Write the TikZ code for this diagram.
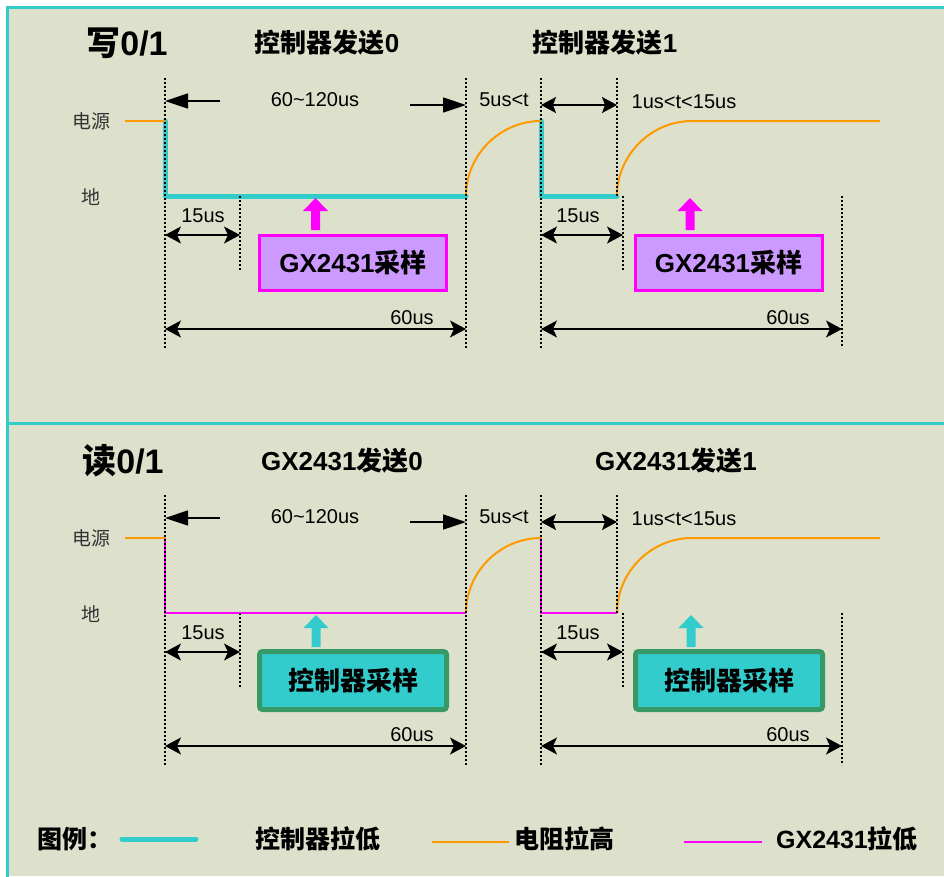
\documentclass[tikz,border=0pt]{standalone}
\usepackage{fontspec}
\setmainfont{Liberation Sans}
\newfontfamily\cjk{Noto Sans CJK SC}
\usetikzlibrary{arrows.meta}
\definecolor{bg}{RGB}{221,225,203}
\definecolor{cy}{RGB}{51,204,204}
\definecolor{og}{RGB}{255,153,0}
\definecolor{mg}{RGB}{255,0,255}
\definecolor{pu}{RGB}{204,153,255}
\definecolor{gr}{RGB}{57,153,102}
\newcommand\zh[1]{{\cjk #1}}
\tikzset{
  dotl/.style={line width=1.3pt, dash pattern=on 2pt off 2pt},
  ctl/.style={cy, line width=5pt, line cap=round, line join=round},
  gxl/.style={mg, line width=2pt},
  res/.style={og, line width=2pt},
  dimA/.style={line width=1.5pt, -{Triangle[length=23pt,width=15pt]}},
  dimB/.style={line width=1.5pt, {Stealth[length=15pt,width=16pt,inset=3pt]}-{Stealth[length=15pt,width=16pt,inset=3pt]}},
  dimC/.style={line width=1.5pt, {Stealth[length=16pt,width=17pt,inset=4pt]}-{Stealth[length=16pt,width=17pt,inset=4pt]}},
  lab/.style={font=\fontsize{20}{24}\selectfont, inner sep=0pt},
  lvl/.style={font=\cjk\fontsize{19}{22}\selectfont, inner sep=0pt, text=black!80},
  ttl/.style={font=\bfseries\fontsize{26}{30}\selectfont, inner sep=0pt},
  big/.style={font=\bfseries\fontsize{34}{40}\selectfont, inner sep=0pt},
  legt/.style={font=\bfseries\fontsize{25}{30}\selectfont, inner sep=0pt},
  wbox/.style={draw=mg, fill=pu, line width=3pt, minimum width=187pt, minimum height=55pt, font=\bfseries\fontsize{26}{30}\selectfont, inner sep=0pt},
  rbox/.style={draw=gr, fill=cy, line width=5pt, rounded corners=3pt, minimum width=187pt, minimum height=58pt, font=\bfseries\fontsize{26}{30}\selectfont, inner sep=0pt},
}
\newcommand\uparr[3]{\fill[#3, shift={(#1,#2)}] (-4.5,32) -- (-4.5,13) -- (-12.5,13) -- (0,0) -- (12.5,13) -- (4.5,13) -- (4.5,32) -- cycle;}
\newcommand\panelbase[1]{%
  \draw[res] (125,121) -- (165,121);
  \draw[res] (466,196) .. controls (466,155) and (500,121) .. (541,121);
  \draw[res] (617,196) .. controls (617,155) and (651,121) .. (692,121) -- (880,121);
  \draw[dotl] (165,78) -- (165,348);
  \draw[dotl] (466,78) -- (466,348);
  \draw[dotl] (541,78) -- (541,348);
  \draw[dotl] (617,78) -- (617,196);
  \draw[dotl] (240,196) -- (240,270);
  \draw[dotl] (623,196) -- (623,270);
  \draw[dotl] (842,196) -- (842,348);
  \node[lvl] (#1pw) at (91,121) {电源};
  \node[lvl] (#1gd) at (91,197) {地};
  \coordinate (#1A) at (165,101);
  \coordinate (#1B) at (220,101);
  \coordinate (#1C) at (410,105);
  \coordinate (#1D) at (466,105);
  \coordinate (#1E) at (541,105);
  \coordinate (#1F) at (617,105);
  \coordinate (#1G) at (165,235);
  \coordinate (#1H) at (240,235);
  \coordinate (#1I) at (541,235);
  \coordinate (#1J) at (623,235);
  \coordinate (#1K) at (165,329);
  \coordinate (#1L) at (466,329);
  \coordinate (#1M) at (541,329);
  \coordinate (#1N) at (842,329);
  \draw[dimA] (#1B) -- (#1A);
  \draw[dimA] (#1C) -- (#1D);
  \draw[dimB] (#1E) -- (#1F);
  \draw[dimC] (#1G) -- (#1H);
  \draw[dimC] (#1I) -- (#1J);
  \draw[dimC] (#1K) -- (#1L);
  \draw[dimC] (#1M) -- (#1N);
  \node[lab] (#1l1) at (315,100) {60\textasciitilde120us};
  \node[lab] (#1l2) at (504,100) {5us<t};
  \node[lab] (#1l3) at (684,102) {1us<t<15us};
  \node[lab] (#1l4) at (203,216) {15us};
  \node[lab] (#1l5) at (578,216) {15us};
  \node[lab] (#1l6) at (412,318) {60us};
  \node[lab] (#1l7) at (788,318) {60us};
}
\begin{document}
\begin{tikzpicture}[x=1pt,y=-1pt]
\useasboundingbox (0,0) rectangle (944,876);
\fill[white] (0,0) rectangle (944,876);
\fill[bg] (7.5,7) rectangle (944,876);
\draw[cy, line width=3pt] (7.5,880) -- (7.5,7) -- (950,7);
\draw[cy, line width=3pt] (7.5,423.5) -- (950,423.5);

% write panel
\begin{scope}
  \draw[ctl] (165,121) -- (165,196) -- (466,196);
  \draw[ctl] (541,121) -- (541,196) -- (617,196);
  \panelbase{w}
  \node[big] (wt) at (127,43) {\zh{写}0/1};
  \node[ttl] (wt0) at (327,43) {\zh{控制器发送}0};
  \node[ttl] (wt1) at (605,43) {\zh{控制器发送}1};
  \node[wbox] (wb1) at (353,262.5) {GX2431\zh{采样}};
  \node[wbox] (wb2) at (728.5,262.5) {GX2431\zh{采样}};
  \uparr{315.5}{198}{mg}
  \uparr{690}{198}{mg}
\end{scope}

% read panel
\begin{scope}[shift={(0,417)}]
  \draw[gxl] (165,121) -- (165,195.5) -- (466,195.5);
  \draw[gxl] (541,121) -- (541,195.5) -- (617,195.5);
  \panelbase{r}
  \node[big] (rt) at (123,44) {\zh{读}0/1};
  \node[ttl] (rt0) at (342,44) {GX2431\zh{发送}0};
  \node[ttl] (rt1) at (676,44) {GX2431\zh{发送}1};
  \node[rbox] (rb1) at (353,263.5) {\zh{控制器采样}};
  \node[rbox] (rb2) at (729,263.5) {\zh{控制器采样}};
  \uparr{316}{198}{cy}
  \uparr{691}{198}{cy}
\end{scope}

% legend
\node[legt] (lg0) at (75,839) {\zh{图例：}};
\draw[ctl] (122,839) -- (196,839);
\node[legt] (lg1) at (318,839) {\zh{控制器拉低}};
\draw[res] (432,842) -- (509,842);
\node[legt] (lg2) at (564,839) {\zh{电阻拉高}};
\draw[gxl] (684,842) -- (762,842);
\node[legt] (lg3) at (847,839) {GX2431\zh{拉低}};
\end{tikzpicture}
\end{document}
